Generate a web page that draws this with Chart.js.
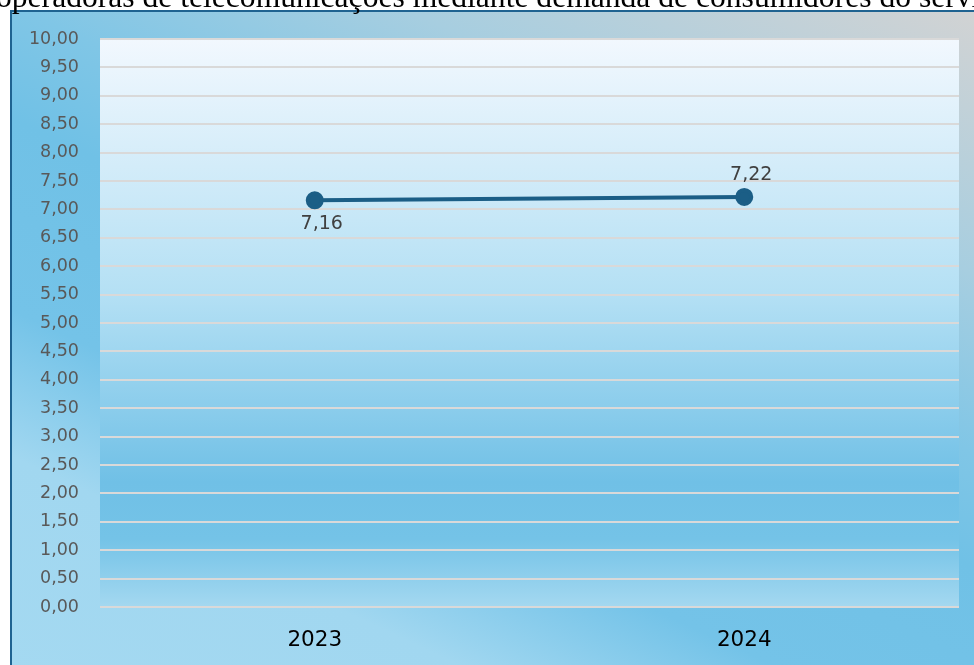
<!DOCTYPE html>
<html lang="pt">
  <head>
    <meta charset="utf-8" />
    <title>Chart</title>
    <style>
      * {
        margin: 0;
        padding: 0;
      }
      body {
        background: white;
        width: 974px;
        height: 665px;
        overflow: hidden;
        position: relative;
      }
      .chartBox {
        position: absolute;
        left: 10px;
        top: 10px;
        width: 980px;
        height: 670px;
        border-left: 2px solid #1f6391;
        border-top: 2px solid #1f6391;
        background: linear-gradient(
          25deg,
          #a4d9f1 0%,
          #a1d7f0 20%,
          #74c3e8 33%,
          #70c1e6 50%,
          #80c6e6 60%,
          #a7cee0 76%,
          #d3d3d3 100%
        );
      }
      #myChart {
        position: absolute;
        left: 0;
        top: 0;
      }
    </style>
  </head>
  <body>
    <div class="chartBox"></div>
    <canvas id="myChart" width="974" height="665"></canvas>

    <script src="https://cdn.jsdelivr.net/npm/chart.js"></script>

    <script>
      const titleText =
        "operadoras de telecomunicações mediante demanda de consumidores do serviço";
      const years = ["2023", "2024"];
      const indexValues = [7.16, 7.22];

      const fmt = (v) => v.toFixed(2).replace(".", ",");

      // title (cut at top) + plot area background
      const backdrop = {
        id: "backdrop",
        beforeDraw(chart) {
          const {
            ctx,
            chartArea: { top, bottom, left, right },
          } = chart;
          ctx.save();
          ctx.font = '31.6px "Liberation Serif"';
          ctx.fillStyle = "#000";
          ctx.textBaseline = "alphabetic";
          ctx.fillText(titleText, -4, 7);

          const g = ctx.createLinearGradient(0, top, 0, bottom);
          g.addColorStop(0, "#f2f8fe");
          g.addColorStop(0.45, "#b4e0f4");
          g.addColorStop(0.78, "#70c0e6");
          g.addColorStop(0.88, "#74c3e7");
          g.addColorStop(1, "#a4d8f0");
          ctx.fillStyle = g;
          ctx.fillRect(left, top, right - left, bottom - top);
          ctx.restore();
        },
      };

      // value labels: first below, second above
      const valueLabels = {
        id: "valueLabels",
        afterDatasetsDraw(chart) {
          const { ctx } = chart;
          const meta = chart.getDatasetMeta(0);
          ctx.save();
          ctx.font = '19px "DejaVu Sans"';
          ctx.fillStyle = "#404040";
          ctx.textAlign = "center";
          ctx.textBaseline = "middle";
          meta.data.forEach((pt, i) => {
            const dy = i === 0 ? 24 : -22;
            ctx.fillText(fmt(indexValues[i]), pt.x + 7, pt.y + dy);
          });
          ctx.restore();
        },
      };

      const data = {
        labels: years,
        datasets: [
          {
            data: indexValues,
            borderColor: "#1b5e86",
            backgroundColor: "#1b5e86",
            borderWidth: 4,
            pointRadius: 7,
            pointBackgroundColor: "#1b5e86",
            pointBorderColor: "#1b5e86",
            tension: 0,
          },
        ],
      };

      const config = {
        type: "line",
        data: data,
        options: {
          responsive: false,
          animation: false,
          layout: {
            padding: { left: 12, right: 15, top: 39, bottom: 0 },
          },
          plugins: {
            legend: { display: false },
            tooltip: { enabled: false },
          },
          scales: {
            x: {
              offset: true,
              grid: { display: false, drawTicks: false },
              border: { display: false },
              ticks: {
                color: "#000",
                padding: 21,
                font: { family: "DejaVu Sans", size: 21.5 },
              },
              afterFit: (s) => {
                s.height = 58;
              },
            },
            y: {
              min: 0,
              max: 10,
              grid: { color: "#d9d9d9", lineWidth: 2, drawTicks: false },
              border: { display: false },
              ticks: {
                stepSize: 0.5,
                color: "#595959",
                padding: 21,
                font: { family: "DejaVu Sans", size: 17.5 },
                callback: (v) => fmt(v),
              },
              afterFit: (s) => {
                s.width = 88;
              },
            },
          },
        },
        plugins: [backdrop, valueLabels],
      };

      const ctx = document.getElementById("myChart");
      const myChart = new Chart(ctx, config);
    </script>
  </body>
</html>
